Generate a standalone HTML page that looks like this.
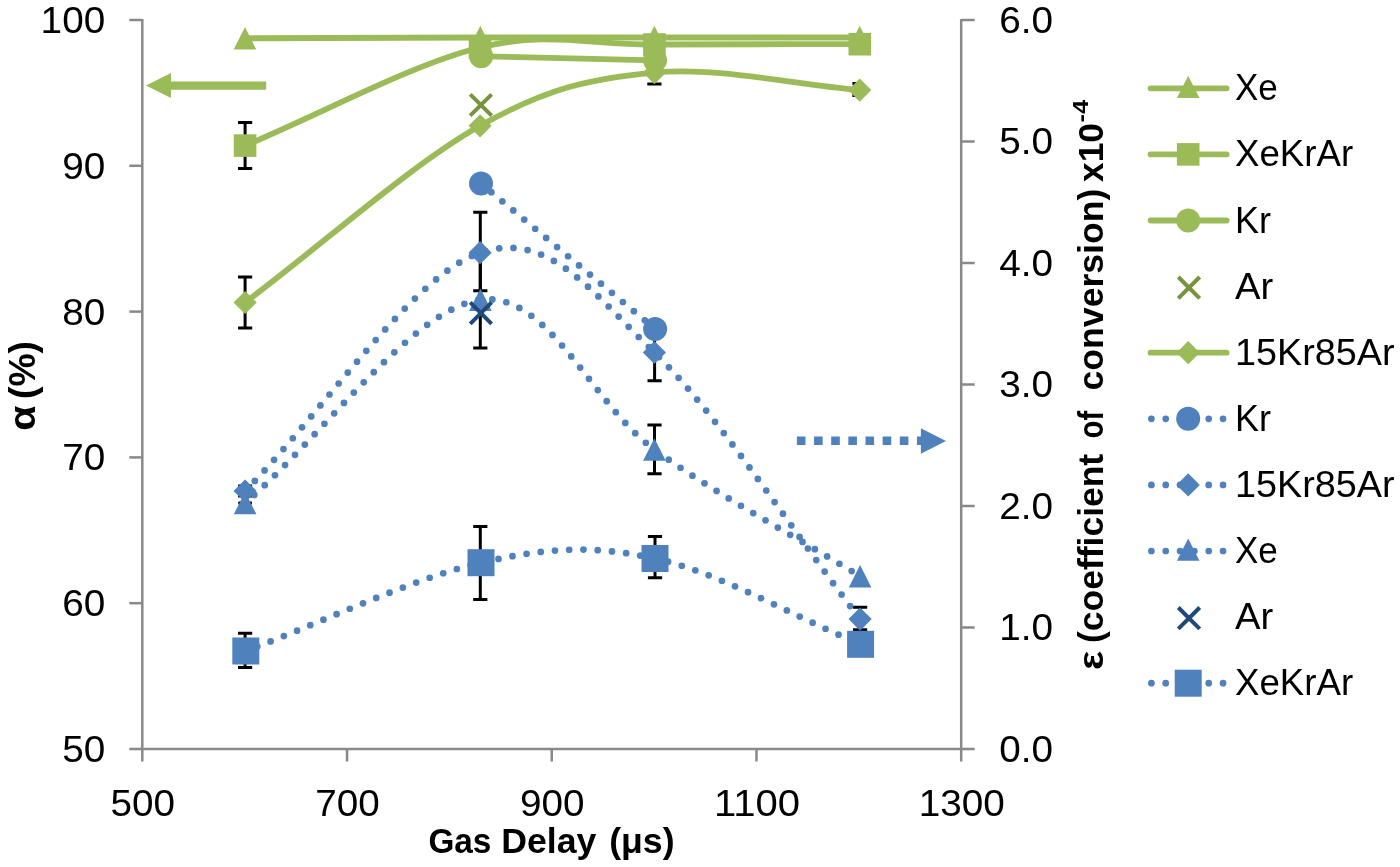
<!DOCTYPE html>
<html lang="en">
<head>
<meta charset="utf-8">
<title>Chart</title>
<style>html,body{margin:0;padding:0;background:#fff;}svg{display:block;will-change:transform;}</style>
</head>
<body>
<svg width="1400" height="867" viewBox="0 0 1400 867">
<g stroke="#898989" stroke-width="2.5" fill="none">
<path d="M142.3,19.0 V761.5"/>
<path d="M961.2,19.0 V761.5"/>
<path d="M129.3,749.0 H974.7"/>
<path d="M129.3,20.00 H142.3"/>
<path d="M129.3,165.80 H142.3"/>
<path d="M129.3,311.60 H142.3"/>
<path d="M129.3,457.40 H142.3"/>
<path d="M129.3,603.20 H142.3"/>
<path d="M961.2,20.00 H974.7"/>
<path d="M961.2,141.50 H974.7"/>
<path d="M961.2,263.00 H974.7"/>
<path d="M961.2,384.50 H974.7"/>
<path d="M961.2,506.00 H974.7"/>
<path d="M961.2,627.50 H974.7"/>
<path d="M347.03,749.0 V761.5"/>
<path d="M551.75,749.0 V761.5"/>
<path d="M756.48,749.0 V761.5"/>
</g>
<g font-family="'Liberation Sans', sans-serif" font-size="36" fill="#000">
<text x="40.64" y="32.9" textLength="64.56" lengthAdjust="spacingAndGlyphs">100</text>
<text x="62.16" y="178.7" textLength="43.04" lengthAdjust="spacingAndGlyphs">90</text>
<text x="62.16" y="324.5" textLength="43.04" lengthAdjust="spacingAndGlyphs">80</text>
<text x="62.16" y="470.3" textLength="43.04" lengthAdjust="spacingAndGlyphs">70</text>
<text x="62.16" y="616.1" textLength="43.04" lengthAdjust="spacingAndGlyphs">60</text>
<text x="62.16" y="761.9" textLength="43.04" lengthAdjust="spacingAndGlyphs">50</text>
<text x="999.3" y="32.9" textLength="53.80" lengthAdjust="spacingAndGlyphs">6.0</text>
<text x="999.3" y="154.4" textLength="53.80" lengthAdjust="spacingAndGlyphs">5.0</text>
<text x="999.3" y="275.9" textLength="53.80" lengthAdjust="spacingAndGlyphs">4.0</text>
<text x="999.3" y="397.4" textLength="53.80" lengthAdjust="spacingAndGlyphs">3.0</text>
<text x="999.3" y="518.9" textLength="53.80" lengthAdjust="spacingAndGlyphs">2.0</text>
<text x="999.3" y="640.4" textLength="53.80" lengthAdjust="spacingAndGlyphs">1.0</text>
<text x="999.3" y="761.9" textLength="53.80" lengthAdjust="spacingAndGlyphs">0.0</text>
<text x="110.52" y="816.2" textLength="64.56" lengthAdjust="spacingAndGlyphs">500</text>
<text x="315.24" y="816.2" textLength="64.56" lengthAdjust="spacingAndGlyphs">700</text>
<text x="519.97" y="816.2" textLength="64.56" lengthAdjust="spacingAndGlyphs">900</text>
<text x="713.93" y="816.2" textLength="86.08" lengthAdjust="spacingAndGlyphs">1100</text>
<text x="918.66" y="816.2" textLength="86.08" lengthAdjust="spacingAndGlyphs">1300</text>
</g>
<g font-family="'Liberation Sans', sans-serif" font-weight="bold" fill="#000">
<g transform="translate(0,853.1)"><text x="428.40" y="0" font-size="35" textLength="63.00" lengthAdjust="spacingAndGlyphs">Gas</text><text x="501.30" y="0" font-size="35" textLength="95.10" lengthAdjust="spacingAndGlyphs">Delay</text><text x="609.20" y="0" font-size="35" textLength="65.40" lengthAdjust="spacingAndGlyphs">(μs)</text></g>
<g transform="translate(35.2,429.6) rotate(-90)"><text x="-1.20" y="0" font-size="36" textLength="25.30" lengthAdjust="spacingAndGlyphs">α</text><text x="30.60" y="0" font-size="36" textLength="58.00" lengthAdjust="spacingAndGlyphs">(%)</text></g>
<g transform="translate(1102.6,668.8) rotate(-90)"><text x="-1.20" y="0" font-size="35" textLength="19.20" lengthAdjust="spacingAndGlyphs">ε</text><text x="25.80" y="0" font-size="35" textLength="189.20" lengthAdjust="spacingAndGlyphs">(coefficient</text><text x="230.30" y="0" font-size="35" textLength="27.80" lengthAdjust="spacingAndGlyphs">of</text><text x="278.30" y="0" font-size="35" textLength="201.90" lengthAdjust="spacingAndGlyphs">conversion)</text><text x="486.90" y="0" font-size="35" textLength="58.90" lengthAdjust="spacingAndGlyphs">x10</text><text x="546.4" y="-14.2" font-size="22" textLength="22.6" lengthAdjust="spacingAndGlyphs">-4</text></g>
</g>
<path d="M146,85.5 L171,73 V81.4 H266.2 V89.7 H171 V98 Z" fill="#9BBB59"/>
<path d="M796.9,440.8 H921" stroke="#4F81BD" stroke-width="8.6" stroke-dasharray="8.6 8.55" fill="none"/>
<path d="M946,441 L920.9,428.3 V453.7 Z" fill="#4F81BD"/>
<path d="M245.10,122.60 L245.10,168.40 M238.00,122.60 L252.20,122.60 M238.00,168.40 L252.20,168.40" stroke="#000" stroke-width="3.00" stroke-linecap="butt" fill="none"/>
<path d="M245.10,276.90 L245.10,328.00 M238.00,276.90 L252.20,276.90 M238.00,328.00 L252.20,328.00" stroke="#000" stroke-width="3.00" stroke-linecap="butt" fill="none"/>
<path d="M654.40,60.00 L654.40,84.10 M647.30,60.00 L661.50,60.00 M647.30,84.10 L661.50,84.10" stroke="#000" stroke-width="3.00" stroke-linecap="butt" fill="none"/>
<path d="M852.4,83.6 H859.7 M852.4,95.4 H859.7" stroke="#000" stroke-width="3" fill="none"/>
<path d="M480.30,212.30 L480.30,290.70 M473.20,212.30 L487.40,212.30 M473.20,290.70 L487.40,290.70" stroke="#000" stroke-width="3.00" stroke-linecap="butt" fill="none"/>
<path d="M480.30,253.00 L480.30,348.00 M473.20,253.00 L487.40,253.00 M473.20,348.00 L487.40,348.00" stroke="#000" stroke-width="3.00" stroke-linecap="butt" fill="none"/>
<path d="M654.60,324.20 L654.60,380.80 M647.50,324.20 L661.70,324.20 M647.50,380.80 L661.70,380.80" stroke="#000" stroke-width="3.00" stroke-linecap="butt" fill="none"/>
<path d="M654.50,425.10 L654.50,473.70 M647.40,425.10 L661.60,425.10 M647.40,473.70 L661.60,473.70" stroke="#000" stroke-width="3.00" stroke-linecap="butt" fill="none"/>
<path d="M245.10,633.30 L245.10,667.60 M238.00,633.30 L252.20,633.30 M238.00,667.60 L252.20,667.60" stroke="#000" stroke-width="3.00" stroke-linecap="butt" fill="none"/>
<path d="M245.10,485.80 L245.10,496.20 M238.10,485.80 L252.10,485.80 M238.10,496.20 L252.10,496.20" stroke="#000" stroke-width="2.40" stroke-linecap="butt" fill="none"/>
<path d="M245.10,502.60 L245.10,503.40 M238.30,502.60 L251.90,502.60 M238.30,503.40 L251.90,503.40" stroke="#000" stroke-width="2.00" stroke-linecap="butt" fill="none"/>
<path d="M480.30,526.40 L480.30,599.40 M473.20,526.40 L487.40,526.40 M473.20,599.40 L487.40,599.40" stroke="#000" stroke-width="3.00" stroke-linecap="butt" fill="none"/>
<path d="M655.00,536.50 L655.00,577.70 M647.90,536.50 L662.10,536.50 M647.90,577.70 L662.10,577.70" stroke="#000" stroke-width="3.00" stroke-linecap="butt" fill="none"/>
<path d="M860.10,607.30 L860.10,629.80 M853.00,607.30 L867.20,607.30 M853.00,629.80 L867.20,629.80" stroke="#000" stroke-width="3.00" stroke-linecap="butt" fill="none"/>
<g stroke="#9BBB59" stroke-width="5.80" fill="none" stroke-linecap="round" stroke-linejoin="round">
<path d="M245.00,38.30 C323.43,38.03 412.07,37.63 480.30,37.50 C548.53,37.37 591.17,37.50 654.40,37.50 C717.63,37.50 791.27,37.50 859.70,37.50"/>
<path d="M245.10,145.60 C323.40,112.90 411.78,64.35 480.00,47.50 C548.22,30.65 591.10,45.05 654.40,44.50 C717.70,43.95 791.33,44.30 859.80,44.20"/>
<path d="M481.10,56.30 L655.00,60.30"/>
<path d="M245.10,302.50 C323.43,243.60 411.88,164.12 480.10,125.80 C548.32,87.48 591.13,78.55 654.40,72.60 C717.67,66.65 791.27,84.27 859.70,90.10"/>
</g>
<g fill="#4F81BD">
<circle cx="491.36" cy="192.15" r="3.35"/><circle cx="502.32" cy="201.31" r="3.35"/><circle cx="513.28" cy="210.46" r="3.35"/><circle cx="524.24" cy="219.61" r="3.35"/><circle cx="535.20" cy="228.77" r="3.35"/><circle cx="546.16" cy="237.92" r="3.35"/><circle cx="557.12" cy="247.08" r="3.35"/><circle cx="568.08" cy="256.23" r="3.35"/><circle cx="579.04" cy="265.38" r="3.35"/><circle cx="590.01" cy="274.54" r="3.35"/><circle cx="600.97" cy="283.69" r="3.35"/><circle cx="611.93" cy="292.84" r="3.35"/><circle cx="622.89" cy="302.00" r="3.35"/><circle cx="633.85" cy="311.15" r="3.35"/><circle cx="644.81" cy="320.30" r="3.35"/>
<circle cx="254.82" cy="480.92" r="3.35"/><circle cx="264.53" cy="470.45" r="3.35"/><circle cx="274.07" cy="459.83" r="3.35"/><circle cx="283.48" cy="449.09" r="3.35"/><circle cx="292.79" cy="438.26" r="3.35"/><circle cx="302.02" cy="427.37" r="3.35"/><circle cx="311.20" cy="416.43" r="3.35"/><circle cx="320.35" cy="405.46" r="3.35"/><circle cx="329.48" cy="394.48" r="3.35"/><circle cx="338.62" cy="383.51" r="3.35"/><circle cx="347.79" cy="372.56" r="3.35"/><circle cx="357.01" cy="361.66" r="3.35"/><circle cx="366.31" cy="350.82" r="3.35"/><circle cx="375.70" cy="340.06" r="3.35"/><circle cx="385.22" cy="329.42" r="3.35"/><circle cx="394.90" cy="318.92" r="3.35"/><circle cx="404.77" cy="308.61" r="3.35"/><circle cx="414.89" cy="298.53" r="3.35"/><circle cx="425.32" cy="288.77" r="3.35"/><circle cx="436.12" cy="279.43" r="3.35"/><circle cx="447.39" cy="270.67" r="3.35"/><circle cx="459.25" cy="262.72" r="3.35"/><circle cx="471.83" cy="255.99" r="3.35"/><circle cx="485.24" cy="251.11" r="3.35"/><circle cx="499.22" cy="248.31" r="3.35"/><circle cx="513.48" cy="247.90" r="3.35"/><circle cx="527.58" cy="250.06" r="3.35"/><circle cx="541.11" cy="254.57" r="3.35"/><circle cx="553.87" cy="260.95" r="3.35"/><circle cx="565.86" cy="268.70" r="3.35"/><circle cx="577.19" cy="277.39" r="3.35"/><circle cx="588.00" cy="286.72" r="3.35"/><circle cx="598.43" cy="296.47" r="3.35"/><circle cx="608.62" cy="306.48" r="3.35"/><circle cx="618.67" cy="316.62" r="3.35"/><circle cx="628.66" cy="326.82" r="3.35"/><circle cx="638.69" cy="336.99" r="3.35"/><circle cx="648.81" cy="347.06" r="3.35"/><circle cx="659.03" cy="357.04" r="3.35"/><circle cx="668.96" cy="367.29" r="3.35"/><circle cx="678.60" cy="377.83" r="3.35"/><circle cx="687.99" cy="388.59" r="3.35"/><circle cx="697.17" cy="399.53" r="3.35"/><circle cx="706.18" cy="410.61" r="3.35"/><circle cx="715.04" cy="421.80" r="3.35"/><circle cx="723.78" cy="433.10" r="3.35"/><circle cx="732.42" cy="444.47" r="3.35"/><circle cx="740.97" cy="455.91" r="3.35"/><circle cx="749.45" cy="467.40" r="3.35"/><circle cx="757.87" cy="478.93" r="3.35"/><circle cx="766.25" cy="490.49" r="3.35"/><circle cx="774.60" cy="502.07" r="3.35"/><circle cx="782.93" cy="513.67" r="3.35"/><circle cx="791.25" cy="525.28" r="3.35"/><circle cx="799.57" cy="536.89" r="3.35"/><circle cx="807.90" cy="548.49" r="3.35"/><circle cx="816.25" cy="560.07" r="3.35"/><circle cx="824.64" cy="571.62" r="3.35"/><circle cx="833.08" cy="583.15" r="3.35"/><circle cx="841.57" cy="594.62" r="3.35"/><circle cx="850.14" cy="606.05" r="3.35"/><circle cx="858.79" cy="617.41" r="3.35"/>
<circle cx="254.30" cy="494.93" r="3.35"/><circle cx="264.74" cy="485.19" r="3.35"/><circle cx="274.97" cy="475.23" r="3.35"/><circle cx="285.05" cy="465.11" r="3.35"/><circle cx="294.99" cy="454.87" r="3.35"/><circle cx="304.85" cy="444.54" r="3.35"/><circle cx="314.65" cy="434.15" r="3.35"/><circle cx="324.42" cy="423.73" r="3.35"/><circle cx="334.19" cy="413.32" r="3.35"/><circle cx="343.97" cy="402.92" r="3.35"/><circle cx="353.81" cy="392.57" r="3.35"/><circle cx="363.73" cy="382.30" r="3.35"/><circle cx="373.77" cy="372.14" r="3.35"/><circle cx="383.95" cy="362.13" r="3.35"/><circle cx="394.33" cy="352.32" r="3.35"/><circle cx="404.95" cy="342.77" r="3.35"/><circle cx="415.87" cy="333.58" r="3.35"/><circle cx="427.18" cy="324.85" r="3.35"/><circle cx="438.95" cy="316.78" r="3.35"/><circle cx="451.31" cy="309.63" r="3.35"/><circle cx="464.36" cy="303.85" r="3.35"/><circle cx="478.13" cy="300.14" r="3.35"/><circle cx="492.36" cy="299.46" r="3.35"/><circle cx="506.33" cy="302.23" r="3.35"/><circle cx="519.39" cy="307.94" r="3.35"/><circle cx="531.35" cy="315.73" r="3.35"/><circle cx="542.30" cy="324.89" r="3.35"/><circle cx="552.46" cy="334.91" r="3.35"/><circle cx="562.05" cy="345.50" r="3.35"/><circle cx="571.23" cy="356.43" r="3.35"/><circle cx="580.16" cy="367.57" r="3.35"/><circle cx="588.97" cy="378.82" r="3.35"/><circle cx="597.77" cy="390.06" r="3.35"/><circle cx="606.68" cy="401.22" r="3.35"/><circle cx="615.81" cy="412.20" r="3.35"/><circle cx="625.28" cy="422.88" r="3.35"/><circle cx="635.23" cy="433.13" r="3.35"/><circle cx="645.79" cy="442.73" r="3.35"/><circle cx="657.09" cy="451.45" r="3.35"/><circle cx="668.75" cy="459.70" r="3.35"/><circle cx="680.54" cy="467.76" r="3.35"/><circle cx="692.45" cy="475.64" r="3.35"/><circle cx="704.46" cy="483.36" r="3.35"/><circle cx="716.56" cy="490.95" r="3.35"/><circle cx="728.72" cy="498.43" r="3.35"/><circle cx="740.95" cy="505.81" r="3.35"/><circle cx="753.22" cy="513.12" r="3.35"/><circle cx="765.52" cy="520.37" r="3.35"/><circle cx="777.84" cy="527.58" r="3.35"/><circle cx="790.18" cy="534.78" r="3.35"/><circle cx="802.51" cy="541.97" r="3.35"/><circle cx="814.84" cy="549.18" r="3.35"/><circle cx="827.14" cy="556.43" r="3.35"/><circle cx="839.41" cy="563.74" r="3.35"/><circle cx="851.64" cy="571.12" r="3.35"/>
<circle cx="257.29" cy="646.62" r="3.35"/><circle cx="270.58" cy="641.40" r="3.35"/><circle cx="283.83" cy="636.07" r="3.35"/><circle cx="297.05" cy="630.67" r="3.35"/><circle cx="310.25" cy="625.21" r="3.35"/><circle cx="323.43" cy="619.72" r="3.35"/><circle cx="336.61" cy="614.22" r="3.35"/><circle cx="349.80" cy="608.75" r="3.35"/><circle cx="363.00" cy="603.32" r="3.35"/><circle cx="376.24" cy="597.95" r="3.35"/><circle cx="389.51" cy="592.68" r="3.35"/><circle cx="402.83" cy="587.53" r="3.35"/><circle cx="416.21" cy="582.54" r="3.35"/><circle cx="429.67" cy="577.76" r="3.35"/><circle cx="443.21" cy="573.23" r="3.35"/><circle cx="456.85" cy="569.02" r="3.35"/><circle cx="470.62" cy="565.22" r="3.35"/><circle cx="484.51" cy="561.91" r="3.35"/><circle cx="498.47" cy="558.93" r="3.35"/><circle cx="512.49" cy="556.22" r="3.35"/><circle cx="526.57" cy="553.85" r="3.35"/><circle cx="540.72" cy="551.93" r="3.35"/><circle cx="554.93" cy="550.53" r="3.35"/><circle cx="569.19" cy="549.74" r="3.35"/><circle cx="583.47" cy="549.61" r="3.35"/><circle cx="597.74" cy="550.17" r="3.35"/><circle cx="611.96" cy="551.38" r="3.35"/><circle cx="626.13" cy="553.20" r="3.35"/><circle cx="640.21" cy="555.55" r="3.35"/><circle cx="654.22" cy="558.33" r="3.35"/><circle cx="668.10" cy="561.69" r="3.35"/><circle cx="681.79" cy="565.74" r="3.35"/><circle cx="695.31" cy="570.33" r="3.35"/><circle cx="708.67" cy="575.36" r="3.35"/><circle cx="721.90" cy="580.73" r="3.35"/><circle cx="735.02" cy="586.37" r="3.35"/><circle cx="748.06" cy="592.21" r="3.35"/><circle cx="761.02" cy="598.19" r="3.35"/><circle cx="773.94" cy="604.28" r="3.35"/><circle cx="786.83" cy="610.42" r="3.35"/><circle cx="799.71" cy="616.58" r="3.35"/><circle cx="812.61" cy="622.71" r="3.35"/><circle cx="825.54" cy="628.76" r="3.35"/><circle cx="838.53" cy="634.70" r="3.35"/><circle cx="851.59" cy="640.47" r="3.35"/>
</g>
<polygon points="245.00,27.10 256.30,49.50 233.70,49.50" fill="#9BBB59"/>
<polygon points="480.30,25.80 491.60,48.20 469.00,48.20" fill="#9BBB59"/>
<polygon points="654.40,25.80 665.70,48.20 643.10,48.20" fill="#9BBB59"/>
<polygon points="859.70,25.80 871.00,48.20 848.40,48.20" fill="#9BBB59"/>
<rect x="233.80" y="134.30" width="22.60" height="22.60" fill="#9BBB59"/>
<rect x="468.70" y="36.20" width="22.60" height="22.60" fill="#9BBB59"/>
<rect x="643.10" y="33.20" width="22.60" height="22.60" fill="#9BBB59"/>
<rect x="848.50" y="32.90" width="22.60" height="22.60" fill="#9BBB59"/>
<circle cx="481.10" cy="56.30" r="12.00" fill="#9BBB59"/>
<circle cx="655.00" cy="60.30" r="12.00" fill="#9BBB59"/>
<polygon points="245.10,290.90 256.70,302.50 245.10,314.10 233.50,302.50" fill="#9BBB59"/>
<polygon points="480.10,114.20 491.70,125.80 480.10,137.40 468.50,125.80" fill="#9BBB59"/>
<polygon points="654.40,61.00 666.00,72.60 654.40,84.20 642.80,72.60" fill="#9BBB59"/>
<polygon points="859.70,78.50 871.30,90.10 859.70,101.70 848.10,90.10" fill="#9BBB59"/>
<path d="M470.20,94.30 L491.60,115.70 M470.20,115.70 L491.60,94.30" stroke="#77933C" stroke-width="4.00" stroke-linecap="butt" fill="none"/>
<circle cx="481.00" cy="183.50" r="12.00" fill="#4F81BD"/>
<circle cx="655.10" cy="328.90" r="12.00" fill="#4F81BD"/>
<polygon points="245.10,479.40 256.70,491.00 245.10,502.60 233.50,491.00" fill="#4F81BD"/>
<polygon points="480.10,241.10 491.70,252.70 480.10,264.30 468.50,252.70" fill="#4F81BD"/>
<polygon points="654.40,340.90 666.00,352.50 654.40,364.10 642.80,352.50" fill="#4F81BD"/>
<polygon points="860.10,607.50 871.70,619.10 860.10,630.70 848.50,619.10" fill="#4F81BD"/>
<polygon points="245.10,491.90 256.40,514.30 233.80,514.30" fill="#4F81BD"/>
<polygon points="480.40,288.60 491.70,311.00 469.10,311.00" fill="#4F81BD"/>
<polygon points="654.40,438.30 665.70,460.70 643.10,460.70" fill="#4F81BD"/>
<polygon points="860.10,565.10 871.40,587.50 848.80,587.50" fill="#4F81BD"/>
<rect x="232.30" y="637.50" width="27.00" height="27.00" fill="#4F81BD"/>
<rect x="467.50" y="549.20" width="27.00" height="27.00" fill="#4F81BD"/>
<rect x="641.50" y="545.00" width="27.00" height="27.00" fill="#4F81BD"/>
<rect x="847.10" y="630.80" width="27.00" height="27.00" fill="#4F81BD"/>
<path d="M470.20,302.40 L491.60,323.80 M470.20,323.80 L491.60,302.40" stroke="#1F497D" stroke-width="4.00" stroke-linecap="butt" fill="none"/>
<path d="M1150.6,88.3 H1226.6" stroke="#9BBB59" stroke-width="5.80" stroke-linecap="round"/>
<polygon points="1188.20,75.70 1199.50,98.10 1176.90,98.10" fill="#9BBB59"/>
<path d="M1150.6,154.4 H1226.6" stroke="#9BBB59" stroke-width="5.80" stroke-linecap="round"/>
<rect x="1176.90" y="143.10" width="22.60" height="22.60" fill="#9BBB59"/>
<path d="M1150.6,220.5 H1226.6" stroke="#9BBB59" stroke-width="5.80" stroke-linecap="round"/>
<circle cx="1188.20" cy="220.50" r="12.00" fill="#9BBB59"/>
<path d="M1178.30,277.00 L1199.70,298.40 M1178.30,298.40 L1199.70,277.00" stroke="#77933C" stroke-width="4.00" stroke-linecap="butt" fill="none"/>
<path d="M1150.6,352.7 H1226.6" stroke="#9BBB59" stroke-width="5.80" stroke-linecap="round"/>
<polygon points="1188.20,341.10 1199.80,352.70 1188.20,364.30 1176.60,352.70" fill="#9BBB59"/>
<g fill="#4F81BD"><circle cx="1151.40" cy="418.80" r="3.35"/><circle cx="1165.73" cy="418.80" r="3.35"/><circle cx="1180.06" cy="418.80" r="3.35"/><circle cx="1194.39" cy="418.80" r="3.35"/><circle cx="1208.72" cy="418.80" r="3.35"/><circle cx="1223.05" cy="418.80" r="3.35"/></g>
<circle cx="1188.20" cy="418.80" r="12.00" fill="#4F81BD"/>
<g fill="#4F81BD"><circle cx="1151.40" cy="484.90" r="3.35"/><circle cx="1165.73" cy="484.90" r="3.35"/><circle cx="1180.06" cy="484.90" r="3.35"/><circle cx="1194.39" cy="484.90" r="3.35"/><circle cx="1208.72" cy="484.90" r="3.35"/><circle cx="1223.05" cy="484.90" r="3.35"/></g>
<polygon points="1188.20,473.30 1199.80,484.90 1188.20,496.50 1176.60,484.90" fill="#4F81BD"/>
<g fill="#4F81BD"><circle cx="1151.40" cy="551.00" r="3.35"/><circle cx="1165.73" cy="551.00" r="3.35"/><circle cx="1180.06" cy="551.00" r="3.35"/><circle cx="1194.39" cy="551.00" r="3.35"/><circle cx="1208.72" cy="551.00" r="3.35"/><circle cx="1223.05" cy="551.00" r="3.35"/></g>
<polygon points="1188.20,538.40 1199.50,560.80 1176.90,560.80" fill="#4F81BD"/>
<path d="M1178.30,607.50 L1199.70,628.90 M1178.30,628.90 L1199.70,607.50" stroke="#1F497D" stroke-width="4.00" stroke-linecap="butt" fill="none"/>
<g fill="#4F81BD"><circle cx="1151.40" cy="683.20" r="3.35"/><circle cx="1165.73" cy="683.20" r="3.35"/><circle cx="1180.06" cy="683.20" r="3.35"/><circle cx="1194.39" cy="683.20" r="3.35"/><circle cx="1208.72" cy="683.20" r="3.35"/><circle cx="1223.05" cy="683.20" r="3.35"/></g>
<rect x="1174.70" y="669.70" width="27.00" height="27.00" fill="#4F81BD"/>
<g font-family="'Liberation Sans', sans-serif" font-size="36" fill="#000">
<text x="1235" y="100.3" textLength="42.8" lengthAdjust="spacingAndGlyphs">Xe</text>
<text x="1235" y="166.4" textLength="118.1" lengthAdjust="spacingAndGlyphs">XeKrAr</text>
<text x="1235" y="232.5" textLength="36.0" lengthAdjust="spacingAndGlyphs">Kr</text>
<text x="1235" y="298.6" textLength="38.2" lengthAdjust="spacingAndGlyphs">Ar</text>
<text x="1235" y="364.7" textLength="159.5" lengthAdjust="spacingAndGlyphs">15Kr85Ar</text>
<text x="1235" y="430.8" textLength="36.0" lengthAdjust="spacingAndGlyphs">Kr</text>
<text x="1235" y="496.9" textLength="159.5" lengthAdjust="spacingAndGlyphs">15Kr85Ar</text>
<text x="1235" y="563.0" textLength="42.8" lengthAdjust="spacingAndGlyphs">Xe</text>
<text x="1235" y="629.1" textLength="38.2" lengthAdjust="spacingAndGlyphs">Ar</text>
<text x="1235" y="695.2" textLength="118.1" lengthAdjust="spacingAndGlyphs">XeKrAr</text>
</g>
</svg>
</body>
</html>
